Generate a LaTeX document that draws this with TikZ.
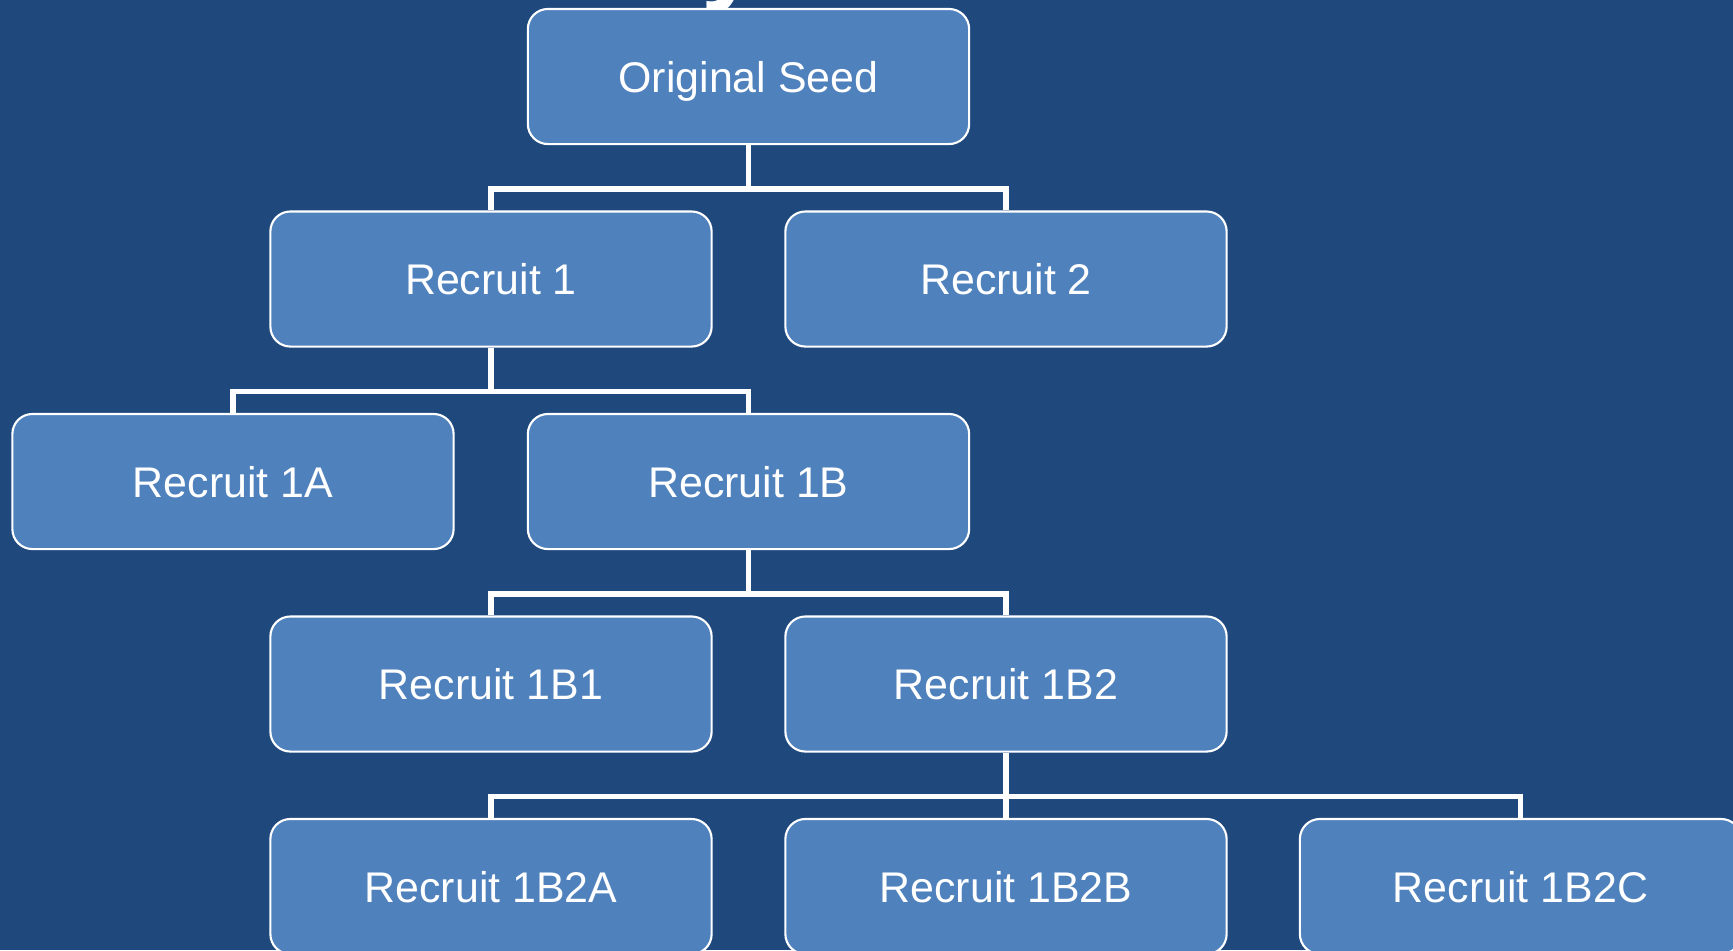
\documentclass[tikz,border=0pt]{standalone}
\usepackage{fontspec}
\setmainfont{Liberation Sans}
\definecolor{bgblue}{RGB}{31,73,125}
\definecolor{boxblue}{RGB}{79,129,189}
\begin{document}
\begin{tikzpicture}[x=0.01cm,y=-0.01cm,
  rbox/.style={draw=white,line width=0.6pt,fill=boxblue,rounded corners=0.2cm,
    minimum width=4.41cm,minimum height=1.35cm,inner sep=0pt,
    text depth=0pt,text=white,font=\fontsize{12.2}{14}\selectfont},
  link/.style={draw=white,line width=1.5pt}]
\clip (0,0) rectangle (1733,950);
\fill[bgblue] (0,0) rectangle (1733,950);
\useasboundingbox (0,0) rectangle (1733,950);
\node[anchor=base,text=white,font=\fontsize{30}{34}\bfseries] (title) at (731,-10) {y};
\node[rbox] (seed) at (748.5,76.5) {Original Seed};
\node[rbox] (r1) at (491,279) {Recruit 1};
\node[rbox] (r2) at (1006,279) {Recruit 2};
\node[rbox] (r1a) at (233,481.5) {Recruit 1A};
\node[rbox] (r1b) at (748.5,481.5) {Recruit 1B};
\node[rbox] (r1b1) at (491,684) {Recruit 1B1};
\node[rbox] (r1b2) at (1006,684) {Recruit 1B2};
\node[rbox] (r1b2a) at (491,886.5) {Recruit 1B2A};
\node[rbox] (r1b2b) at (1006,886.5) {Recruit 1B2B};
\node[rbox] (r1b2c) at (1520.5,886.5) {Recruit 1B2C};
\draw[link] (seed.south) -- ++(0,44) -| (r1.north);
\draw[link] (seed.south) -- ++(0,44) -| (r2.north);
\draw[link] (r1.south) -- ++(0,44) -| (r1a.north);
\draw[link] (r1.south) -- ++(0,44) -| (r1b.north);
\draw[link] (r1b.south) -- ++(0,44) -| (r1b1.north);
\draw[link] (r1b.south) -- ++(0,44) -| (r1b2.north);
\draw[link] (r1b2.south) -- ++(0,44) -| (r1b2a.north);
\draw[link] (r1b2.south) -- (r1b2b.north);
\draw[link] (r1b2.south) -- ++(0,44) -| (r1b2c.north);
\end{tikzpicture}
\end{document}
